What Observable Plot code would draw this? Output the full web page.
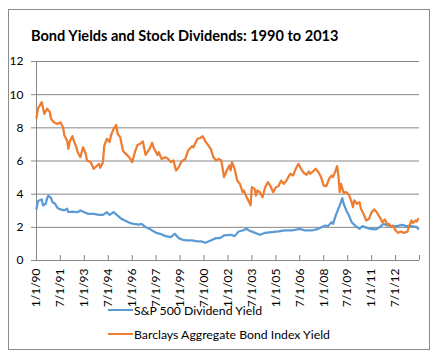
<!DOCTYPE html>
<html>
<head>
<meta charset="utf-8">
<script src="https://cdn.jsdelivr.net/npm/d3@7"></script>
<script src="https://cdn.jsdelivr.net/npm/@observablehq/plot@0.6"></script>
<style>
  html, body { margin: 0; padding: 0; background: #fff; }
  #wrap { position: relative; width: 437px; height: 361px; overflow: hidden; font-family: Lato, "Open Sans", sans-serif; }
  #frame { position: absolute; left: 8px; top: 9px; width: 420px; height: 339px; border: 1px solid #8c8c8c; }
  #title { position: absolute; left: 31px; top: 28px; font-weight: bold; color: #000; white-space: nowrap; line-height: 16px; }
  #chart { position: absolute; left: 0; top: 0; }
  #legend { position: absolute; left: 108px; top: 298px; color: #000; }
  .row { display: flex; align-items: center; height: 24px; white-space: nowrap; }
  .sw { display: inline-block; width: 25px; height: 2px; margin-right: 1px; }
</style>
</head>
<body>
<div id="wrap">
  <div id="frame"></div>
  <div id="title"></div>
  <div id="chart"></div>
  <div id="legend"></div>
</div>
<script>
const titleText = "Bond Yields and Stock Dividends: 1990 to 2013";
const seriesNames = ["S&P 500 Dividend Yield", "Barclays Aggregate Bond Index Yield"];
const seriesColors = ["#5B9BD5", "#ED7D31"];

// months since Jan 1990 and read values (percent)
const divMonths = [0,1,2,4,5,7,8,9,11,12,14,16,18,21,23,24,27,31,33,36,39,43,47,50,53,55,58,61,64,68,70,73,77,79,82,85,87,90,93,97,101,104,107,110,113,117,121,124,127,131,135,138,141,146,149,152,155,158,160,163,168,172,177,182,187,192,198,202,207,212,217,219,222,223,225,227,228,230,231,233,235,237,240,243,245,247,251,255,258,261,264,267,271,275,278,282,286,287];
const divYield = [3.12,3.56,3.62,3.68,3.32,3.42,3.76,3.92,3.76,3.52,3.42,3.16,3.08,3.02,3.12,2.91,2.95,2.91,3.02,2.91,2.81,2.81,2.75,2.75,2.91,2.75,2.91,2.71,2.51,2.35,2.27,2.21,2.17,2.21,2.01,1.91,1.81,1.67,1.61,1.47,1.41,1.61,1.35,1.25,1.21,1.21,1.15,1.15,1.07,1.21,1.35,1.35,1.51,1.55,1.47,1.75,1.81,1.91,1.81,1.71,1.55,1.67,1.71,1.75,1.81,1.81,1.91,1.81,1.81,1.91,2.11,2.07,2.31,2.21,2.71,3.12,3.32,3.76,3.42,3.02,2.71,2.31,2.07,1.91,2.07,2.01,1.91,1.87,2.01,2.21,2.11,2.07,2.07,2.15,2.07,2.07,2.01,1.91];

const bondMonths = [0,1,4,6,8,10,11,13,16,18,20,21,23,24,25,27,28,30,31,33,34,35,37,38,40,41,43,45,47,48,50,51,53,55,56,58,60,61,63,65,66,68,70,72,74,76,78,80,82,85,87,88,91,92,94,97,99,101,103,105,107,109,112,114,117,118,121,123,125,127,129,131,133,135,137,139,140,141,142,143,145,146,147,149,151,153,155,156,158,160,161,162,164,165,166,168,170,172,174,176,178,180,182,184,186,188,190,191,193,195,197,199,201,203,205,206,208,210,212,214,216,218,220,222,223,225,226,227,228,229,231,233,235,237,238,239,241,243,244,246,248,250,252,254,256,257,259,260,262,264,265,267,268,270,272,274,276,278,279,280,282,283,285,286,287];
const bondYield = [8.6,9.15,9.55,8.84,9.15,8.95,8.54,8.34,8.24,8.34,8.04,7.54,7.24,6.73,7.18,7.5,7.24,6.83,6.53,6.23,6.53,6.83,6.43,6.03,5.97,5.89,5.53,5.67,5.83,5.59,5.93,6.93,7.34,7.14,7.54,7.94,8.18,7.64,7.44,6.63,6.53,6.37,6.2,5.93,6.53,6.97,7.04,7.18,6.37,6.73,7.1,6.83,6.37,6.53,6.13,6.23,6.13,5.93,6.03,5.43,5.63,5.97,6.13,6.63,6.89,6.83,7.34,7.38,7.5,7.18,6.97,6.73,6.23,6.03,6.13,6.03,5.55,5.03,5.2,5.43,5.73,5.43,5.93,5.53,4.82,4.62,4.12,4.22,3.82,3.52,3.32,4.42,4.32,3.92,4.22,4.12,3.82,4.42,4.72,4.48,4.12,4.42,4.48,4.82,4.62,4.82,5.13,5.23,5.13,5.53,5.83,5.53,5.29,5.17,5.37,5.23,5.37,5.53,5.33,5.03,4.52,4.48,4.92,5.13,5.03,5.43,5.69,5.13,4.12,4.62,4.08,4.12,3.96,3.52,3.22,3.62,3.42,3.52,3.12,2.81,2.41,2.51,2.91,3.08,2.91,2.75,2.51,2.31,2.47,2.15,2.21,2.01,2.11,1.81,1.67,1.75,1.67,1.71,1.75,2.01,2.41,2.27,2.41,2.35,2.51];

const xTickLabels = ["1/1/90","7/1/91","1/1/93","7/1/94","1/1/96","7/1/97","1/1/99","7/1/00","1/1/02","7/1/03","1/1/05","7/1/06","1/1/08","7/1/09","1/1/11","7/1/12"];
const xEndLabel = "1/1/14";
const yTicks = [0, 2, 4, 6, 8, 10, 12];

const parseLabel = s => { const [m, d, y] = s.split("/").map(Number); return new Date(Date.UTC((y < 50 ? 2000 : 1900) + y, m - 1, d)); };
const monthDate = m => new Date(Date.UTC(1990, m, 1));

const divData = divMonths.map((m, i) => ({date: monthDate(m), value: divYield[i]}));
const bondData = bondMonths.map((m, i) => ({date: monthDate(m), value: bondYield[i]}));
const tickDates = xTickLabels.map(parseLabel);
const allTickDates = [...tickDates, parseLabel(xEndLabel)];
const labelByTime = new Map(tickDates.map((d, i) => [+d, xTickLabels[i]]));

const gridColor = "#868686";
const font = 'Lato, "Open Sans", sans-serif';

const chart = Plot.plot({
  width: 437,
  height: 361,
  marginTop: 61,
  marginBottom: 101,
  marginLeft: 36,
  marginRight: 18,
  style: {fontFamily: font, fontSize: "12px", color: "#000", background: "transparent"},
  x: {type: "utc", domain: [allTickDates[0], allTickDates[allTickDates.length - 1]]},
  y: {domain: [0, 12]},
  marks: [
    Plot.gridY(yTicks.filter(t => t > 0), {stroke: gridColor, strokeOpacity: 1}),
    Plot.ruleY([0], {stroke: gridColor}),
    Plot.ruleX([allTickDates[0]], {stroke: gridColor}),
    Plot.ruleX(allTickDates, {y1: 0, y2: 0.3, stroke: gridColor}),
    Plot.axisY({ticks: yTicks, tickSize: 5, tickPadding: 8, stroke: gridColor, label: null, tickFormat: d => String(d)}),
    Plot.axisX({ticks: tickDates, tickSize: 0, tickPadding: 8, tickRotate: -90, label: null, tickFormat: d => labelByTime.get(+d) || ""}),
    Plot.line(divData, {x: "date", y: "value", stroke: seriesColors[0], strokeWidth: 2.25}),
    Plot.line(bondData, {x: "date", y: "value", stroke: seriesColors[1], strokeWidth: 2.25})
  ]
});
document.getElementById("chart").append(chart);

// fit text sizes
const ctx = document.createElement("canvas").getContext("2d");
function fitSize(text, weight, target) {
  ctx.font = `${weight} 100px ${font}`;
  return 100 * target / ctx.measureText(text).width;
}
const title = document.getElementById("title");
title.textContent = titleText;
title.style.fontSize = fitSize(titleText, "bold", 308).toFixed(2) + "px";

const legend = document.getElementById("legend");
const legSize = fitSize(seriesNames[1], "normal", 197);
seriesNames.forEach((name, i) => {
  const row = document.createElement("div");
  row.className = "row";
  row.style.fontSize = legSize.toFixed(2) + "px";
  const sw = document.createElement("span");
  sw.className = "sw";
  sw.style.background = seriesColors[i];
  const t = document.createElement("span");
  t.textContent = name;
  row.append(sw, t);
  legend.append(row);
});
</script>
</body>
</html>
